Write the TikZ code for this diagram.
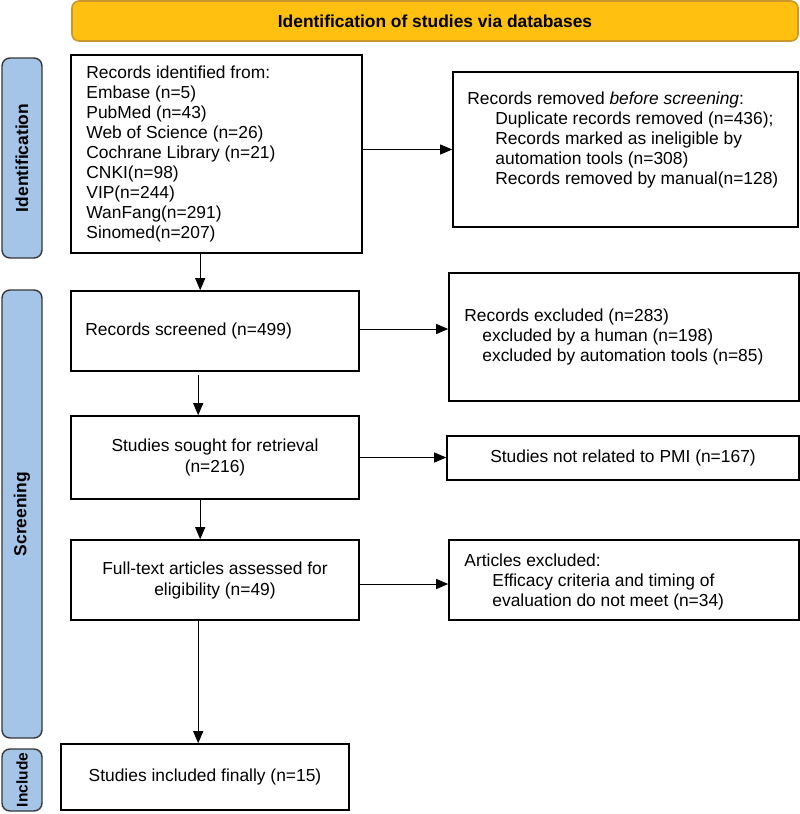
\documentclass[tikz,border=0pt]{standalone}
\usepackage{fontspec}
\setmainfont{Liberation Sans}
\usetikzlibrary{arrows.meta}
\definecolor{bannerfill}{HTML}{FFC010}
\definecolor{bannerdraw}{HTML}{C8982E}
\definecolor{sidefill}{HTML}{A4C4E8}
\definecolor{sidedraw}{HTML}{383838}
\begin{document}
\begin{tikzpicture}[x=1pt,y=-1pt,
  box/.style={draw=black, line width=1.6pt, rectangle, inner sep=0pt},
  txt/.style={inner sep=0pt, align=left, font=\fontsize{17.4}{20}\selectfont},
  ctxt/.style={inner sep=0pt, align=center, font=\fontsize{17.4}{21}\selectfont},
  banner/.style={draw=bannerdraw, fill=bannerfill, line width=1.6pt, rounded corners=7pt,
    font=\fontsize{17.4}{20}\selectfont\bfseries, inner sep=0pt},
  side/.style={draw=sidedraw, fill=sidefill, line width=1.4pt, rounded corners=8pt,
    rotate=90, font=\fontsize{17.4}{20}\selectfont\bfseries, inner sep=0pt},
  arr/.style={line width=0.9pt, -{Triangle[length=12pt,width=10pt]}}
]
\useasboundingbox (0,0) rectangle (800,814);

% banner
\node[banner, minimum width=726pt, minimum height=40pt] (ban) at (435,21) {Identification of studies via databases};

% side labels
\node[side, minimum width=200pt, minimum height=40pt] (lid) at (22,158) {Identification};
\node[side, minimum width=448pt, minimum height=40pt] (lscr) at (22,514) {Screening};
\node[side, minimum width=62pt, minimum height=40pt, font=\fontsize{15.5}{18}\selectfont\bfseries] (linc) at (22,780) {Include};

% boxes
\node[box, minimum width=291pt, minimum height=198pt] (rid) at (216.5,154) {};
\node[box, minimum width=345pt, minimum height=155pt] (rrm) at (625.5,149.5) {};
\node[box, minimum width=288pt, minimum height=80pt] (rsc) at (215,331) {};
\node[box, minimum width=350pt, minimum height=128pt] (rex) at (624,337) {};
\node[box, minimum width=288pt, minimum height=83pt] (sou) at (215,457.5) {};
\node[box, minimum width=352pt, minimum height=44pt] (snr) at (623,458) {};
\node[box, minimum width=288pt, minimum height=80pt] (ful) at (215,580) {};
\node[box, minimum width=350pt, minimum height=80pt] (aex) at (624,580) {};
\node[box, minimum width=288pt, minimum height=66pt] (inc) at (205,777) {};

% texts
\node[txt, anchor=west] (trid) at ([xshift=16pt]rid.west) {Records identified from:\\Embase (n=5)\\PubMed (n=43)\\Web of Science (n=26)\\Cochrane Library (n=21)\\CNKI(n=98)\\VIP(n=244)\\WanFang(n=291)\\Sinomed(n=207)};
\node[txt, anchor=west] (trrm) at ([xshift=15pt,yshift=10pt]rrm.west) {Records removed \textit{before screening}:\\\hspace*{28pt}Duplicate records removed (n=436);\\\hspace*{28pt}Records marked as ineligible by\\\hspace*{28pt}automation tools (n=308)\\\hspace*{28pt}Records removed by manual(n=128)};
\node[txt, anchor=west] (trsc) at ([xshift=15pt]rsc.west) {Records screened (n=499)};
\node[txt, anchor=west] (trex) at ([xshift=16pt]rex.west) {Records excluded (n=283)\\\hspace*{18pt}excluded by a human (n=198)\\\hspace*{18pt}excluded by automation tools (n=85)};
\node[ctxt] (tsou) at (sou.center) {Studies sought for retrieval\\(n=216)};
\node[ctxt] (tsnr) at (snr.center) {Studies not related to PMI (n=167)};
\node[ctxt] (tful) at (ful.center) {Full-text articles assessed for\\eligibility (n=49)};
\node[txt, anchor=west] (taex) at ([xshift=16pt,yshift=-2pt]aex.west) {Articles excluded:\\\hspace*{28pt}Efficacy criteria and timing of\\\hspace*{28pt}evaluation do not meet (n=34)};
\node[ctxt] (tinc) at (inc.center) {Studies included finally (n=15)};

% connectors
\draw[arr] (rrm.west -| rid.east) -- (rrm.west);
\draw[arr] ([xshift=130pt]rid.south west) -- ([xshift=130pt]rsc.north west);
\draw[arr] ([yshift=2pt]rsc.east) -- ([yshift=2pt]rsc.east -| rex.west);
\draw[arr] ([xshift=128pt,yshift=-3pt]rsc.south west) -- ([xshift=128pt]sou.north west);
\draw[arr] (sou.east) -- (sou.east -| snr.west);
\draw[arr] ([xshift=130pt]sou.south west) -- ([xshift=130pt]ful.north west);
\draw[arr] ([yshift=-4pt]ful.east) -- ([yshift=-4pt]ful.east -| aex.west);
\draw[arr] ([xshift=128pt]ful.south west) -- ([xshift=138pt]inc.north west);
\end{tikzpicture}
\end{document}
